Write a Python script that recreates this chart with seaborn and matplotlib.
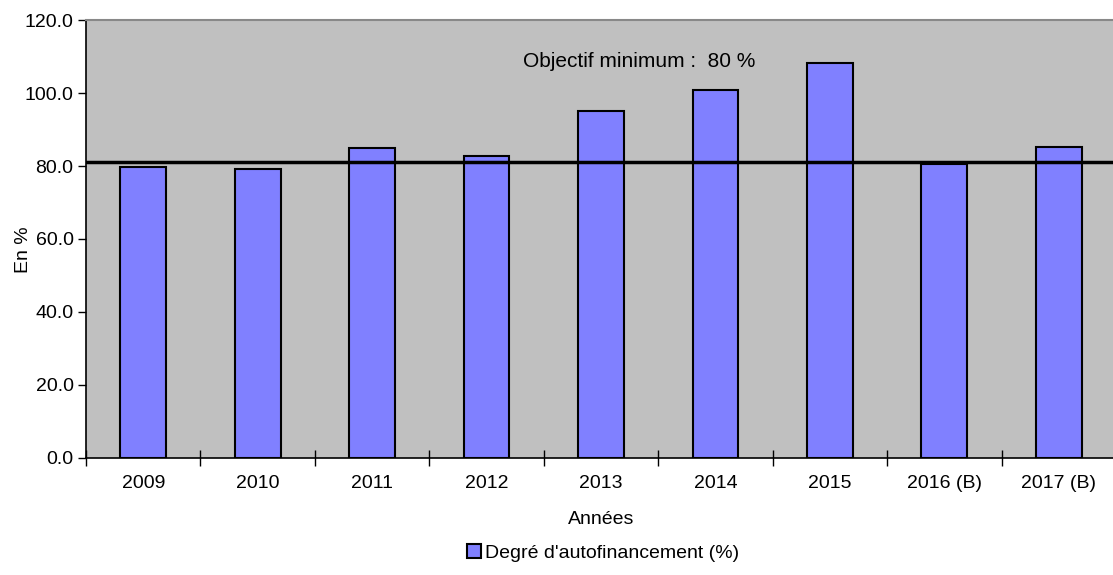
import numpy as np
import pandas as pd
import seaborn as sns
import matplotlib.pyplot as plt
from matplotlib.ticker import FixedLocator

years = ["2009", "2010", "2011", "2012", "2013", "2014", "2015", "2016 (B)", "2017 (B)"]
degre = [79.7, 79.2, 84.9, 82.7, 95.1, 100.8, 108.2, 80.6, 85.2]
objectif = 81.0
serie_label = "Degré d'autofinancement (%)"

df = pd.DataFrame({"Année": years, "Valeur": degre})

sns.set_style("white", rc={"text.color": "black", "axes.labelcolor": "black",
                           "xtick.color": "black", "ytick.color": "black",
                           "xtick.bottom": True, "ytick.left": True})
plt.rcParams["font.family"] = ["Liberation Sans", "DejaVu Sans"]

fig = plt.figure(figsize=(11.13, 5.75), dpi=100)
ax = fig.add_axes([0.0773, 0.2035, 0.9254, 0.7617])
ax.set_facecolor("#C0C0C0")

sns.barplot(data=df, x="Année", y="Valeur", color="#8080FF", saturation=1,
            width=0.4, edgecolor="black", linewidth=1.5, label=serie_label, ax=ax)
if ax.get_legend() is not None:
    ax.get_legend().remove()

ax.axhline(objectif, color="black", linewidth=2.5, zorder=5)
ax.text(4.33, 108.5, "Objectif minimum :  80 %", ha="center", va="center", fontsize=15)

ax.set_ylim(0, 120)
ax.set_xlim(-0.5, len(years) - 0.5)
ax.set_yticks(np.arange(0, 121, 20))
ax.set_yticklabels([f"{v:.1f}" for v in np.arange(0, 121, 20)], fontsize=14)
ax.tick_params(axis="y", left=True, direction="out", length=6, width=1, color="black", pad=3)
ax.tick_params(axis="x", which="major", bottom=True, length=0, labelsize=14, pad=12)
ax.xaxis.set_minor_locator(FixedLocator(np.arange(-0.5, len(years), 1.0)))
ax.tick_params(axis="x", which="minor", bottom=True, direction="inout", length=12, width=1, color="black")

for s in ["left", "bottom"]:
    ax.spines[s].set_color("black")
    ax.spines[s].set_linewidth(1.2)
ax.spines["top"].set_color("#888888")
ax.spines["top"].set_linewidth(1.5)
ax.spines["right"].set_visible(False)

ax.set_xlabel("Années", fontsize=14, labelpad=14)
ax.set_ylabel("En %", fontsize=14)
ax.yaxis.set_label_coords(-0.052, 0.475)

handles, labels = ax.get_legend_handles_labels()
fig.legend(handles[:1], labels[:1], loc="center", bbox_to_anchor=(0.542, 0.038), frameon=False,
           fontsize=14, handlelength=0.7, handleheight=0.7, handletextpad=0.2, borderaxespad=0)

fig.savefig("out.png", dpi=100)
